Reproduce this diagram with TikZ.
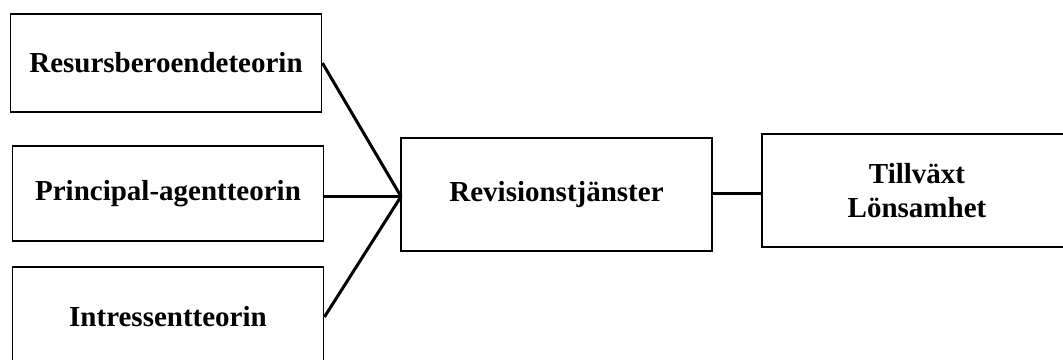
\documentclass[tikz,border=0pt]{standalone}
\usepackage{fontspec}
\setmainfont{Liberation Serif}
\usepackage{tikz}
\usetikzlibrary{positioning}

\tikzset{
box/.style={draw, line width=1.8pt, minimum width=311pt, inner sep=0pt,
  font=\bfseries\fontsize{29}{34}\selectfont, align=center},
link/.style={line width=3pt}
}

\begin{document}
\begin{tikzpicture}[x=1pt,y=-1pt]
\useasboundingbox (0,0) rectangle (1063,359);
\node[box, minimum height=98pt] (res) at (166,63) {Resursberoendeteorin};
\node[box, minimum height=95pt] (pa) at (168,193.5) {Principal-agentteorin};
\node[box, minimum height=100pt] (int) at (168,317) {Intressentteorin};

\node[box, minimum height=113pt] (rev) at (556.5,194.5) {Revisionstjänster};
\node[box, minimum height=113pt, minimum width=310pt] (tl) at (917,190.5) {Tillväxt\\Lönsamhet};

\coordinate (hub) at (401,196.5);
\draw[link] (res.east) -- (hub);
\draw[link] (pa.east |- hub) -- (hub);
\draw[link] (int.east) -- (hub);
\draw[link] (rev.east |- 0,193) -- (tl.west |- 0,193);
\end{tikzpicture}
\end{document}
